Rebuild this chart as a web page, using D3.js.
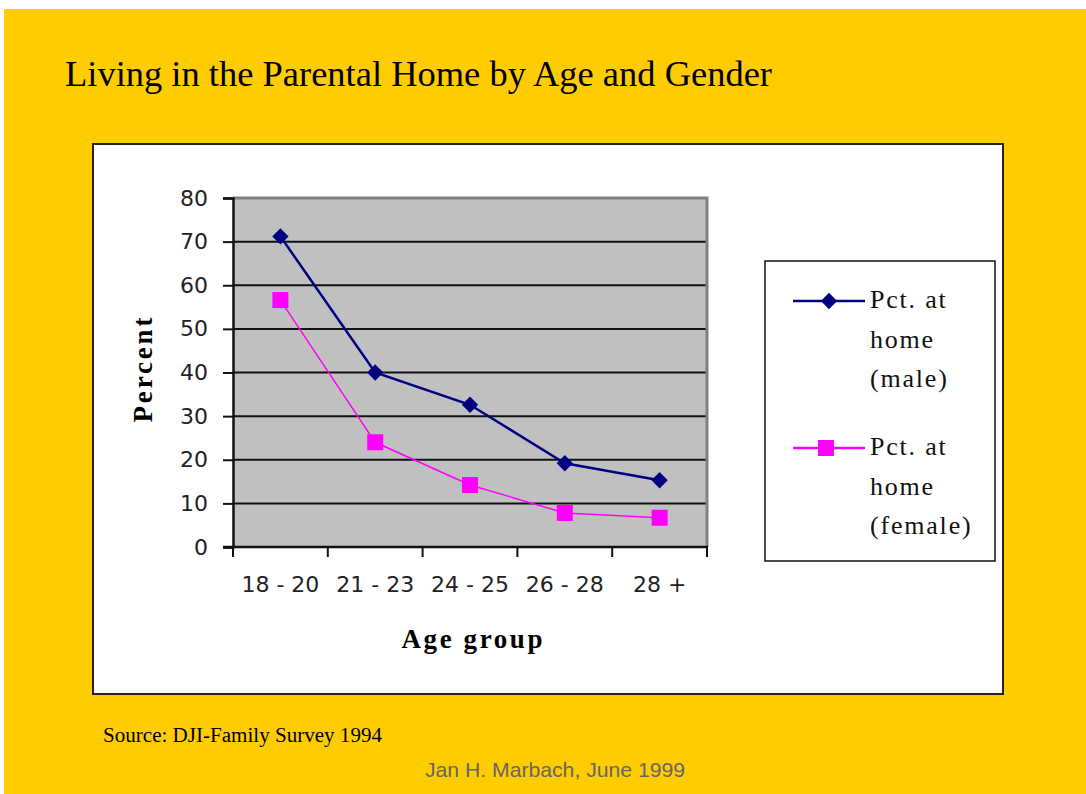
<!DOCTYPE html>
<html lang="en">
<head>
    <meta charset="UTF-8">
    <script src="https://d3js.org/d3.v7.min.js"></script>
    <title>Living in the Parental Home</title>
    <style>
        body { margin: 0; background: #fff; }
    </style>
</head>
<body>
    <svg id="linechart" width="1086" height="794"></svg>

    <script>
        // data
        const ageGroups = ["18 - 20", "21 - 23", "24 - 25", "26 - 28", "28 +"];
        const maleValues = [71.2, 40, 32.6, 19.2, 15.3];
        const femaleValues = [56.6, 24, 14.2, 7.8, 6.7];
        const yTicks = [0, 10, 20, 30, 40, 50, 60, 70, 80];
        const maleLabel = ["Pct. at", "home", "(male)"];
        const femaleLabel = ["Pct. at", "home", "(female)"];

        const svg = d3.select("svg#linechart");
        const plot = {left: 233, right: 707, top: 198, bottom: 547};

        // background + frame
        svg.append("rect")
            .attr("x", 4).attr("y", 9)
            .attr("width", 1082).attr("height", 785)
            .attr("fill", "#FFCC00");

        svg.append("rect")
            .attr("x", 93).attr("y", 144)
            .attr("width", 910).attr("height", 550)
            .attr("fill", "#fff")
            .attr("stroke", "#222")
            .attr("stroke-width", 2);

        svg.append("text")
            .attr("x", 65).attr("y", 86)
            .attr("font-family", "Liberation Serif, serif")
            .attr("font-size", 36)
            .attr("textLength", 707)
            .attr("lengthAdjust", "spacingAndGlyphs")
            .text("Living in the Parental Home by Age and Gender");

        //Scale
        const xScale = d3.scaleBand().domain(ageGroups).range([plot.left, plot.right]);
        const yScale = d3.scaleLinear().domain([0, 80]).range([plot.bottom, plot.top]);

        // plot area
        svg.append("rect")
            .attr("x", plot.left).attr("y", plot.top)
            .attr("width", plot.right - plot.left).attr("height", plot.bottom - plot.top)
            .attr("fill", "#C0C0C0");

        // gridlines
        svg.append("g")
            .selectAll("line")
            .data(yTicks.filter(d => d > 0 && d < 80))
            .join("line")
            .attr("x1", plot.left).attr("x2", plot.right)
            .attr("y1", d => yScale(d)).attr("y2", d => yScale(d))
            .attr("stroke", "#111")
            .attr("stroke-width", 2);

        // top and right border of the plot
        svg.append("path")
            .attr("d", "M" + plot.left + "," + plot.top + "H" + plot.right + "V" + plot.bottom)
            .attr("fill", "none")
            .attr("stroke", "#808080")
            .attr("stroke-width", 3);

        //Y axis
        let leftAxis = d3.axisLeft(yScale)
            .tickValues(yTicks)
            .tickSize(10)
            .tickPadding(15);

        let yAxisG = svg.append("g")
            .attr("class", "y axis")
            .attr("transform", "translate(" + plot.left + ",0)")
            .call(leftAxis);
        yAxisG.select(".domain").attr("stroke", "#111").attr("stroke-width", 2.5);
        yAxisG.selectAll(".tick line").attr("stroke", "#111").attr("stroke-width", 2);
        yAxisG.selectAll("text")
            .attr("font-family", "DejaVu Sans, sans-serif")
            .attr("font-size", 22)
            .attr("fill", "#222");

        //X axis
        let bottomAxis = d3.axisBottom(xScale)
            .tickSize(0)
            .tickPadding(29);

        let xAxisG = svg.append("g")
            .attr("class", "x axis")
            .attr("transform", "translate(0," + plot.bottom + ")")
            .call(bottomAxis);
        xAxisG.select(".domain").remove();
        xAxisG.selectAll("text")
            .attr("font-family", "DejaVu Sans, sans-serif")
            .attr("font-size", 22)
            .attr("fill", "#222");

        // x axis line with ticks between the categories
        const xEdges = ageGroups.map(d => xScale(d)).concat([plot.right]);
        svg.append("line")
            .attr("x1", plot.left - 10).attr("x2", plot.right + 1)
            .attr("y1", plot.bottom).attr("y2", plot.bottom)
            .attr("stroke", "#111").attr("stroke-width", 2.5);
        svg.append("g")
            .selectAll("line")
            .data(xEdges)
            .join("line")
            .attr("x1", d => d).attr("x2", d => d)
            .attr("y1", plot.bottom).attr("y2", plot.bottom + 10)
            .attr("stroke", "#111").attr("stroke-width", 2);

        // axis titles
        svg.append("text")
            .attr("x", 472).attr("y", 648)
            .attr("text-anchor", "middle")
            .attr("font-family", "Liberation Serif, serif")
            .attr("font-weight", "bold")
            .attr("font-size", 27)
            .attr("textLength", 141)
            .attr("lengthAdjust", "spacing")
            .text("Age group");

        svg.append("text")
            .attr("transform", "translate(152,370) rotate(-90)")
            .attr("text-anchor", "middle")
            .attr("font-family", "Liberation Serif, serif")
            .attr("font-weight", "bold")
            .attr("font-size", 27)
            .attr("textLength", 105)
            .attr("lengthAdjust", "spacing")
            .text("Percent");

        // lines
        var lineGen = d3.line()
            .x((d, i) => xScale(ageGroups[i]) + xScale.bandwidth() / 2)
            .y(d => yScale(d));

        svg.append("path")
            .datum(femaleValues)
            .attr("fill", "none")
            .attr("stroke", "#FF00FF")
            .attr("stroke-width", 1.5)
            .attr("d", lineGen);

        svg.append("path")
            .datum(maleValues)
            .attr("fill", "none")
            .attr("stroke", "#000080")
            .attr("stroke-width", 2.5)
            .attr("d", lineGen);

        const diamond = d3.symbol().type(d3.symbolDiamond2).size(170);

        svg.append("g")
            .selectAll("rect")
            .data(femaleValues)
            .join("rect")
            .attr("x", (d, i) => xScale(ageGroups[i]) + xScale.bandwidth() / 2 - 8)
            .attr("y", d => yScale(d) - 8)
            .attr("width", 16).attr("height", 16)
            .attr("fill", "#FF00FF");

        svg.append("g")
            .selectAll("path")
            .data(maleValues)
            .join("path")
            .attr("transform", (d, i) => "translate(" + (xScale(ageGroups[i]) + xScale.bandwidth() / 2) + "," + yScale(d) + ")")
            .attr("d", diamond)
            .attr("fill", "#000080");

        // legend
        let legend = svg.append("g").attr("id", "legend");
        legend.append("rect")
            .attr("x", 765).attr("y", 261)
            .attr("width", 230).attr("height", 300)
            .attr("fill", "#fff")
            .attr("stroke", "#111")
            .attr("stroke-width", 1.5);

        legend.append("line")
            .attr("x1", 793).attr("x2", 865).attr("y1", 301).attr("y2", 301)
            .attr("stroke", "#000080").attr("stroke-width", 2.5);
        legend.append("path")
            .attr("transform", "translate(829,301)")
            .attr("d", diamond)
            .attr("fill", "#000080");

        legend.append("line")
            .attr("x1", 793).attr("x2", 865).attr("y1", 448).attr("y2", 448)
            .attr("stroke", "#FF00FF").attr("stroke-width", 2.5);
        legend.append("rect")
            .attr("x", 818).attr("y", 440).attr("width", 16).attr("height", 16)
            .attr("fill", "#FF00FF");

        [[maleLabel, 308], [femaleLabel, 455]].forEach(([lines, y0]) => {
            legend.append("g")
                .selectAll("text")
                .data(lines)
                .join("text")
                .attr("x", 870)
                .attr("y", (d, i) => y0 + i * 39.5)
                .attr("font-family", "Liberation Serif, serif")
                .attr("font-size", 26)
                .attr("letter-spacing", 1.8)
                .attr("fill", "#111")
                .text(d => d);
        });

        // footer
        svg.append("text")
            .attr("x", 103).attr("y", 742)
            .attr("font-family", "Liberation Serif, serif")
            .attr("font-size", 20)
            .attr("textLength", 279)
            .attr("lengthAdjust", "spacingAndGlyphs")
            .text("Source: DJI-Family Survey 1994");

        svg.append("text")
            .attr("x", 425).attr("y", 777)
            .attr("font-family", "Liberation Sans, Arial, sans-serif")
            .attr("font-size", 21)
            .attr("fill", "#666")
            .attr("textLength", 260)
            .attr("lengthAdjust", "spacingAndGlyphs")
            .text("Jan H. Marbach, June 1999");
    </script>
</body>
</html>
